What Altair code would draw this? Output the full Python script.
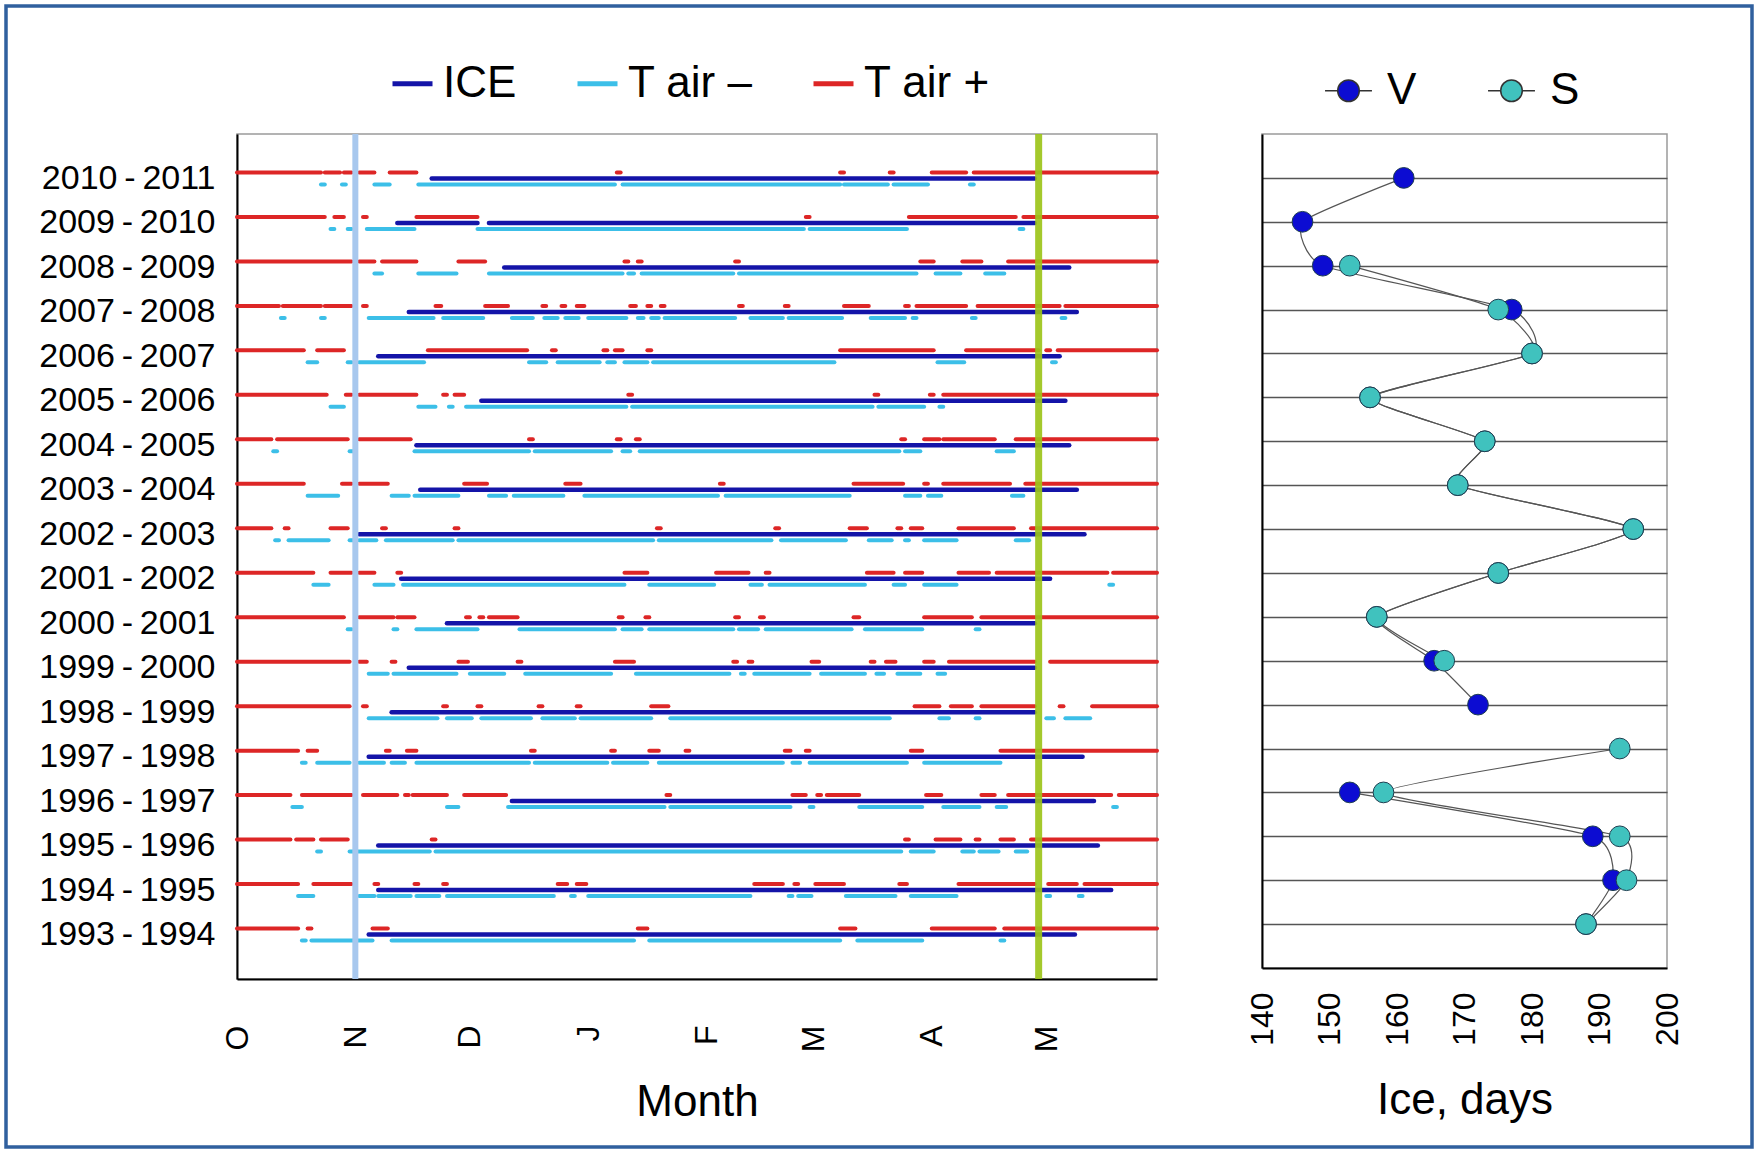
import altair as alt
import pandas as pd

FONT = "Liberation Sans"

# ---------------- data ----------------
seasons = ["2010-2011", "2009-2010", "2008-2009", "2007-2008", "2006-2007", "2005-2006",
           "2004-2005", "2003-2004", "2002-2003", "2001-2002", "2000-2001", "1999-2000",
           "1998-1999", "1997-1998", "1996-1997", "1995-1996", "1994-1995", "1993-1994"]

# day counted from 1 October
month_days = [0, 31, 61, 92, 123, 151, 182, 212]
month_labels = ["O", "N", "D", "J", "F", "M", "A", "M"]
marker_days = [31, 210]

ice = [
    [(51, 209)],
    [(42, 63), (66, 209)],
    [(70, 218)],
    [(45, 220)],
    [(37, 215.5)],
    [(64, 217)],
    [(47, 218)],
    [(48, 220)],
    [(32, 222)],
    [(43, 213)],
    [(55, 209)],
    [(45, 209)],
    [(40.5, 209)],
    [(34.5, 221.5)],
    [(72, 224.5)],
    [(37, 225.5)],
    [(37, 229)],
    [(34.5, 219.5)],
]

t_minus = [
    [(22, 23), (27.5, 28.5), (36, 40), (47.5, 99), (101, 158), (159, 170.5), (172, 181), (192, 193)],
    [(24.5, 25.5), (29, 30), (34, 46.5), (63, 148.5), (150, 175.5), (205, 206)],
    [(36, 38), (47.5, 57.5), (66, 101), (102.5, 104), (106, 130), (131.5, 178), (183, 189.5), (196, 201)],
    [(11.5, 12.5), (22, 23), (34.5, 51.5), (54, 64.5), (72, 77.5), (80.5, 84), (86, 89.5), (92, 102),
     (105, 106.5), (108.5, 110.5), (112, 130.5), (134.5, 143), (144.5, 158.5), (166, 175), (177, 178),
     (192.5, 193.5), (216, 217)],
    [(18.5, 21), (29, 30), (32, 49), (76.5, 81), (84, 95), (97, 99), (101.5, 107.5), (109, 156.5),
     (183.5, 190.5), (213.5, 214.5)],
    [(24.5, 28), (47.5, 52), (55.5, 56.5), (60, 102), (103.5, 166.5), (168, 180), (184, 185)],
    [(9.5, 10.5), (29.5, 30.5), (46.5, 76.5), (78, 98), (101, 103), (105.5, 173.5), (175, 179), (199, 203.5)],
    [(18.5, 26.5), (40.5, 45), (46.5, 58), (66, 70.5), (72.5, 85.5), (91, 126), (128, 160.5), (175, 179),
     (181, 184.5), (203, 206)],
    [(10, 11), (13.5, 24), (29.5, 30.5), (32, 36.5), (39, 56.5), (58, 109), (110.5, 140), (142.5, 159.5),
     (165.5, 171.5), (175, 176), (180, 188.5), (204, 207.5)],
    [(20, 24), (36, 41), (43.5, 101.5), (108, 125), (134.5, 137.5), (139.5, 164.5), (172, 175),
     (180, 188.5), (228.5, 229.5)],
    [(29, 30), (41, 42), (47, 63), (74, 99), (101, 106), (108, 130), (131.5, 136.5), (138.5, 161),
     (164.5, 179.5), (193.5, 194.5)],
    [(34.5, 39.5), (41, 57.5), (61, 70), (75.5, 98), (104.5, 129), (132, 133), (135.5, 150), (153, 164.5),
     (167.5, 169.5), (173, 179), (183.5, 185.5)],
    [(34.5, 52.5), (55, 61.5), (64, 77), (80, 88.5), (90, 108.5), (113.5, 171), (184, 186.5),
     (193.5, 194.5), (212, 214), (217, 223.5)],
    [(17, 18), (21, 29.5), (32, 38.5), (40.5, 44), (47, 76.5), (78, 97), (98.5, 107.5), (110.5, 143),
     (145.5, 147.5), (150, 175.5), (180, 200)],
    [(14.5, 17), (55, 58), (71, 112), (113.5, 145), (150, 151), (163, 179.5), (185, 194.5), (199, 201.5),
     (229.5, 230.5)],
    [(21, 22), (29.5, 30.5), (31.5, 50.5), (52, 174), (176.5, 182.5), (190, 193), (194.5, 199.5), (204, 207)],
    [(16, 20), (32, 36), (37, 45.5), (47, 53), (55, 83), (87.5, 88.5), (92, 134.5), (144.5, 145.5),
     (147, 150.5), (159.5, 172.5), (176.5, 188.5), (212, 213), (220.5, 221.5)],
    [(17, 18), (19.5, 35.5), (40.5, 104), (108, 158), (162.5, 179.5), (200, 201)],
]

t_plus = [
    [(0, 22), (23, 27), (28, 30), (32, 36), (40, 47), (99.5, 100.5), (158, 159), (171, 172), (182, 191),
     (193, 241)],
    [(0, 23), (25.5, 28), (33, 34), (47, 63), (149, 150), (176, 204), (206, 241)],
    [(0, 30), (32, 36), (38, 47), (58, 65), (101.5, 102.5), (105, 106), (130.5, 131.5), (179, 182.5),
     (190, 195), (202, 241)],
    [(0, 11), (12, 22), (23, 30), (33, 34), (52, 53.5), (65, 71), (80, 81), (85, 86), (89, 91),
     (103, 104.5), (107.5, 108.5), (111, 112), (131.5, 132.5), (143.5, 144.5), (159, 165.5), (175, 176),
     (178, 191), (194, 215.5), (217, 241)],
    [(0, 17.5), (21, 28), (50, 76), (82.5, 83.5), (96, 97), (99, 101), (107.5, 108.5), (158, 182.5),
     (191, 210), (212, 213), (215, 241)],
    [(0, 23.5), (28.5, 30), (32, 47), (54, 55), (57, 59.5), (102.5, 103.5), (167, 168), (181.5, 182.5),
     (185, 241)],
    [(0, 9), (10.5, 29), (32, 45.5), (76.5, 77.5), (99.5, 100.5), (104.5, 105.5), (174, 175), (180, 184),
     (185, 198.5), (204, 241)],
    [(0, 17.5), (27.5, 30), (32, 39.5), (59.5, 65.5), (86, 90), (126.5, 127.5), (161.5, 174.5), (180, 181),
     (185, 202.5), (206.5, 241)],
    [(0, 9), (12.5, 13.5), (24.5, 29), (38, 39), (57, 58), (110, 111), (141, 142), (160.5, 165),
     (173, 174), (176.5, 179.5), (189, 203.5), (208, 241)],
    [(0, 20), (24.5, 30), (32, 36), (42, 43), (101.5, 107.5), (125.5, 134), (138.5, 139.5), (165, 172),
     (175, 179.5), (189, 197), (199, 228), (229.5, 241)],
    [(0, 28), (32, 41), (42, 46.5), (60, 61), (63.5, 64.5), (66, 73.5), (100, 101), (107, 108),
     (130.5, 131.5), (137, 138), (161.5, 163), (180, 192.5), (195, 241)],
    [(0, 29.5), (32, 34), (40.5, 41.5), (58, 60.5), (73.5, 74.5), (99, 104), (130, 131), (134, 135),
     (150.5, 152.5), (166, 167), (170, 172.5), (180, 182.5), (186.5, 209), (213, 241)],
    [(0, 29.5), (33, 34), (54, 55), (63, 64), (79, 80), (89, 90), (108.5, 113), (177.5, 184), (187, 192.5),
     (195, 209), (215.5, 216.5), (224, 241)],
    [(0, 16), (18.5, 21), (39, 40), (44.5, 47), (77, 78), (98, 99), (108, 110.5), (117.5, 118.5),
     (143.5, 145), (149, 150), (176.5, 179.5), (200, 241)],
    [(0, 14), (17, 30), (33, 42), (44, 45), (46, 55), (59.5, 70.5), (112.5, 113.5), (145.5, 149),
     (152, 153), (154.5, 163), (180.5, 184.5), (195, 198.5), (202, 229), (231, 241)],
    [(0, 14), (15.5, 20), (22, 29), (51, 52), (175, 176), (183, 189.5), (193.5, 194.5), (200, 203.5),
     (208, 241)],
    [(0, 16), (20, 30), (36, 37), (46.5, 47.5), (54, 55), (84, 86.5), (89, 91.5), (135.5, 143), (146, 147),
     (151.5, 159), (173.5, 175.5), (189, 209), (212.5, 220), (222, 241)],
    [(0, 16), (18.5, 19.5), (35.5, 39.5), (105, 107.5), (158, 162), (182, 198.5), (201, 241)],
]

kinds = ["ICE", "T air \u2013", "T air +"]
kind_colors = ["#1414A8", "#3CBFE8", "#DD2626"]

# Ice duration (days) for the two series
series = ["V", "S"]
series_colors = ["#0C0CD2", "#40C2BE"]
v_days = [161, 146, 149, 177, 180, 156, 173, 169, 195, 175, 157, 165.5, 172, None, 153, 189, 192, 188]
s_days = [None, None, 153, 175, 180, 156, 173, 169, 195, 175, 157, 167, None, 193, 158, 193, 194, 188]

# ---------------- tables ----------------
seg_rows = []
for kind, table in zip(kinds, [ice, t_minus, t_plus]):
    for season, segs in zip(seasons, table):
        for a, b in segs:
            seg_rows.append({"season": season, "kind": kind, "start": a, "end": b})
seg_df = pd.DataFrame(seg_rows)
marker_df = pd.DataFrame({"start": marker_days})

vs_rows = []
for name, vals in zip(series, [v_days, s_days]):
    run = 0
    prev_ok = False
    for i, (season, val) in enumerate(zip(seasons, vals)):
        ok = val is not None
        if ok and not prev_ok:
            run += 1
        prev_ok = ok
        if ok:
            vs_rows.append({"season": season, "series": name, "days": val, "idx": i,
                            "seg": f"{name}{run}"})
vs_df = pd.DataFrame(vs_rows)

# ---------------- left panel ----------------
W_L, H_L = 920, 845
W_R, H_R = 405, 834

month_expr = "[" + ",".join(f"'{m}'" for m in month_labels) + "][indexof([" + \
    ",".join(str(d) for d in month_days) + "], datum.value)]"

x_left = alt.X("start:Q",
               scale=alt.Scale(domain=[0, 241], nice=False, zero=False),
               axis=alt.Axis(values=month_days, labelExpr=month_expr, labelAngle=270,
                             labelFontSize=32, labelPadding=46, ticks=False, grid=False,
                             domainColor="black", domainWidth=2, title="Month",
                             titleFontSize=44, titleFontWeight="normal", titlePadding=29))
y_left = alt.Y("season:N", sort=seasons,
               scale=alt.Scale(type="point", padding=1, domain=seasons),
               axis=alt.Axis(title=None, labelFontSize=34, labelPadding=22, ticks=False,
                             grid=False, domainColor="black", domainWidth=2,
                             labelExpr="replace(datum.label, '-', '\u2009-\u2009')"))
color_left = alt.Color("kind:N",
                       scale=alt.Scale(domain=kinds, range=kind_colors),
                       legend=alt.Legend(title=None, orient="none", legendX=153, legendY=-73,
                                         direction="horizontal", labelFontSize=44,
                                         symbolType="stroke", symbolSize=1600,
                                         symbolStrokeWidth=5, labelOffset=8,
                                         columnPadding=50, labelColor="black"))

seg_base = alt.Chart(seg_df).encode(x=x_left, x2="end:Q", y=y_left, color=color_left)
plus_layer = seg_base.transform_filter(alt.datum.kind == kinds[2]).mark_rule(
    strokeWidth=4, strokeCap="round", yOffset=-6)
ice_layer = seg_base.transform_filter(alt.datum.kind == kinds[0]).mark_rule(
    strokeWidth=4.5, strokeCap="round", yOffset=0)
minus_layer = seg_base.transform_filter(alt.datum.kind == kinds[1]).mark_rule(
    strokeWidth=4, strokeCap="round", yOffset=6)

n_line = alt.Chart(marker_df).transform_filter(alt.datum.start == marker_days[0]).mark_rule(
    color="#A8C8EE", strokeWidth=6).encode(x="start:Q")
m_line = alt.Chart(marker_df).transform_filter(alt.datum.start == marker_days[1]).mark_rule(
    color="#9CC41A", strokeWidth=7, opacity=0.92).encode(x="start:Q")

# decorative picture frame around the whole figure
frame = alt.Chart(marker_df).transform_filter(alt.datum.start == marker_days[0]).mark_rect(
    fillOpacity=0, stroke="#30609E", strokeWidth=3.5, clip=False).encode(
    x=alt.value(-231), x2=alt.value(1515), y=alt.value(-128), y2=alt.value(1013))

left = alt.layer(plus_layer, ice_layer, minus_layer, n_line, m_line, frame).properties(
    width=W_L, height=H_L)

# ---------------- right panel ----------------
x_right = alt.X("days:Q",
                scale=alt.Scale(domain=[140, 200], nice=False, zero=False),
                axis=alt.Axis(values=list(range(140, 201, 10)), labelAngle=270, labelFontSize=32,
                              labelPadding=24, ticks=False, grid=False, domainColor="black",
                              domainWidth=2, title="Ice, days", titleFontSize=44,
                              titleFontWeight="normal", titlePadding=33))
y_right = alt.Y("season:N", sort=seasons,
                scale=alt.Scale(type="point", padding=1, domain=seasons),
                axis=alt.Axis(title=None, labels=False, ticks=False, grid=True,
                              gridColor="#555555", gridWidth=1.5, domainColor="black",
                              domainWidth=2))

legend_path = ("M-1,0L-0.46,0M0.46,0L1,0M0.46,0A0.46,0.46,0,1,1,-0.46,0"
               "A0.46,0.46,0,1,1,0.46,0Z")

lines = alt.Chart(vs_df).mark_line(color="#555555", strokeWidth=1.2,
                                   interpolate="cardinal", tension=0.5).encode(
    x=x_right, y=y_right, detail="seg:N", order="idx:Q")
points = alt.Chart(vs_df).mark_point(filled=True, size=430, stroke="#1E3E50",
                                     strokeWidth=1, opacity=1).encode(
    x=x_right, y=y_right,
    color=alt.Color("series:N", scale=alt.Scale(domain=series, range=series_colors),
                    legend=alt.Legend(title=None, orient="none", legendX=62, legendY=-68,
                                      direction="horizontal", labelFontSize=44,
                                      symbolType=legend_path, symbolSize=2200,
                                      symbolStrokeColor="#333333", symbolStrokeWidth=1.5,
                                      symbolOpacity=1, labelOffset=14, columnPadding=68,
                                      labelColor="black")))

right = alt.layer(lines, points).properties(width=W_R, height=H_R)

chart = alt.hconcat(left, right, spacing=105, bounds="flush").resolve_scale(
    color="independent", y="independent", x="independent"
).resolve_legend(color="independent").properties(
    padding={"left": 3, "top": 3, "right": 0, "bottom": 0},
    background="white",
).configure_view(
    stroke="#9A9A9A", strokeWidth=1.5
).configure_axis(
    labelFont=FONT, titleFont=FONT, labelColor="black", titleColor="black"
).configure_legend(
    labelFont=FONT
)

chart.save("out.html", embed_options={"renderer": "svg", "actions": False})
